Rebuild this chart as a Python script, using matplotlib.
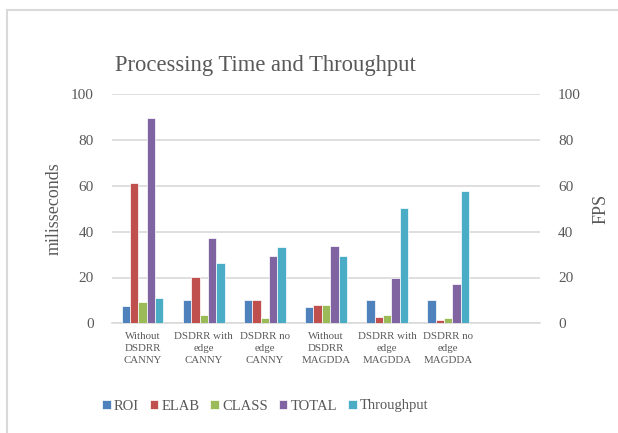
import numpy as np
import matplotlib
matplotlib.use("Agg")
import matplotlib.pyplot as plt
from matplotlib.patches import Rectangle

plt.rcParams['font.family'] = ['Liberation Serif', 'DejaVu Serif']

categories = ['Without\nDSDRR\nCANNY', 'DSDRR with\nedge\nCANNY', 'DSDRR no\nedge\nCANNY',
              'Without\nDSDRR\nMAGDDA', 'DSDRR with\nedge\nMAGDDA', 'DSDRR no\nedge\nMAGDDA', '']
roi = [7.6, 10.0, 10.2, 7.3, 10.0, 10.2]
elab = [61.3, 20.1, 10.2, 8.0, 2.6, 1.5]
cls = [9.3, 3.6, 2.3, 7.9, 3.6, 2.3]
total = [89.7, 37.3, 29.6, 33.8, 19.7, 17.2]
throughput = [10.9, 26.5, 33.5, 29.3, 50.4, 57.8]

series = ['ROI', 'ELAB', 'CLASS', 'TOTAL', 'Throughput']
colors = ['#4F81BD', '#C0504D', '#9BBB59', '#8064A2', '#4BACC6']
grey = '#595959'
grid = '#D9D9D9'

fig = plt.figure(figsize=(6.18, 4.33), dpi=100)
ax = fig.add_axes([112/618, 1-323.3/433, 428/618, 229/433])
ax2 = ax.twinx()

x = np.arange(len(categories))
w = 0.1364
ms_data = [roi, elab, cls, total]
for i, vals in enumerate(ms_data):
    ax.bar(np.arange(len(vals)) + (i - 2) * w, vals, w, color=colors[i],
           edgecolor='white', linewidth=0.5, label=series[i], zorder=3)
ax2.bar(np.arange(len(throughput)) + 2 * w, throughput, w, color=colors[4],
        edgecolor='white', linewidth=0.5, label=series[4], zorder=3)

for a in (ax, ax2):
    a.set_ylim(0, 100)
    a.set_yticks(range(0, 101, 20))
    a.tick_params(axis='y', length=0, pad=13, labelsize=11, labelcolor=grey)
    for s in a.spines.values():
        s.set_visible(False)
ax.set_xlim(-0.5, len(categories) - 0.5)
ax.set_xticks(x)
ax.set_xticklabels(categories, fontsize=7.8, color=grey, linespacing=1.45)
ax.tick_params(axis='x', length=0, pad=6)
ax.yaxis.grid(True, color=grid, linewidth=1.2, zorder=0)
ax.set_axisbelow(True)
ax.spines['bottom'].set_visible(True)
ax.spines['bottom'].set_color(grid)
ax.spines['bottom'].set_linewidth(1.2)

ax.set_ylabel('milisseconds', fontsize=13, color=grey, labelpad=6)
ax2.set_ylabel('FPS', fontsize=13, color=grey, labelpad=8)

fig.text(265/618, 1-66/433, 'Processing Time and Throughput', ha='center', va='center',
         fontsize=16.3, color=grey)

h1, l1 = ax.get_legend_handles_labels()
h2, l2 = ax2.get_legend_handles_labels()
fig.legend(h1 + h2, l1 + l2, loc='center', bbox_to_anchor=(265/618, 1-406/433), ncol=5,
           frameon=False, fontsize=10.5, labelcolor=grey, handlelength=0.6, handleheight=0.6,
           handletextpad=0.2, columnspacing=0.75)

fig.patches.append(Rectangle((7/618, -0.1), 1.0, 1.1 - 10/433, transform=fig.transFigure,
                             fill=False, edgecolor=grid, linewidth=1.5))

fig.savefig('out.png', dpi=100, facecolor='white')
